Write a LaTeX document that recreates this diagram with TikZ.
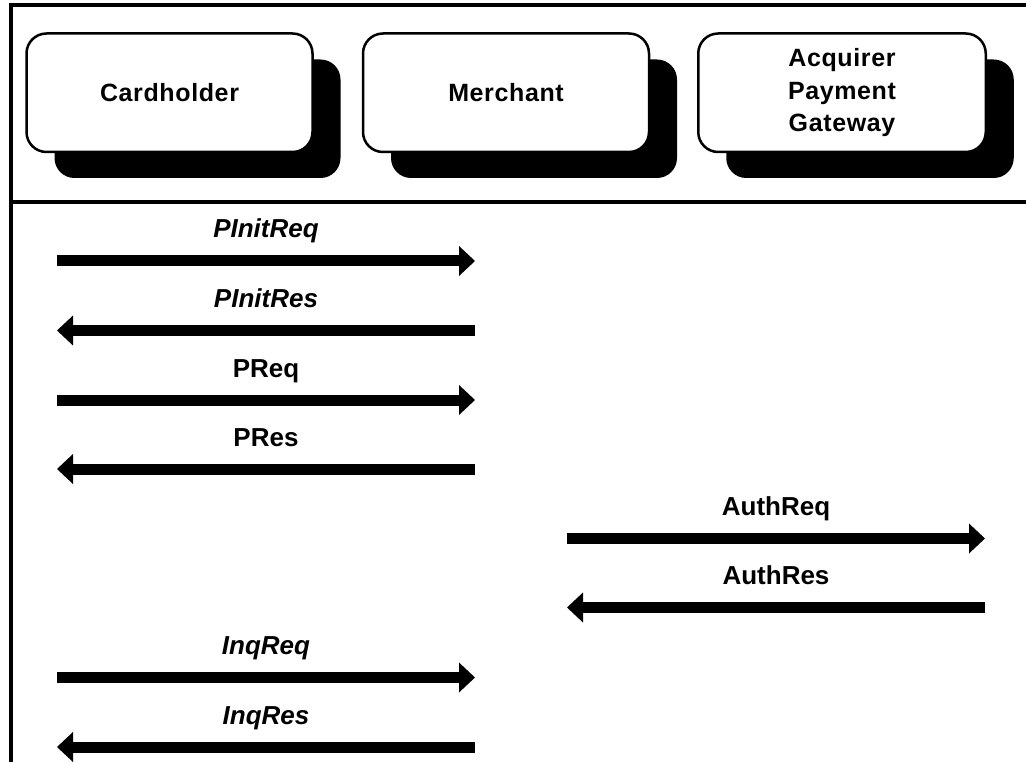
\documentclass[tikz,border=0pt]{standalone}
\usepackage{fontspec}
\setmainfont{Liberation Sans}
\newfontfamily\partyfont[LetterSpace=2.5]{Liberation Sans}
\usetikzlibrary{arrows.meta,shadows}

\begin{document}
\begin{tikzpicture}[x=1pt,y=-1pt,
  frame/.style={line width=4pt},
  party/.style={draw, line width=2.5pt, rounded corners=20pt, fill=white,
    minimum width=286pt, minimum height=118.5pt, inner sep=0pt, align=center,
    font=\partyfont\bfseries\fontsize{25}{32.5}\selectfont,
    general shadow={fill=black, shadow xshift=28pt, shadow yshift=-26pt}},
  msg/.style={line width=11pt, -{Triangle[length=16pt,width=30pt,line width=0pt]}},
  lbl/.style={midway, anchor=base, yshift=23pt, font=\bfseries\fontsize{26}{30}\selectfont},
  ilbl/.style={lbl, font=\bfseries\itshape\fontsize{26}{30}\selectfont},
]
\useasboundingbox (0,0) rectangle (1026,762);

% header frame and separator
\draw[frame] (1026,5.5) -| (11,762);
\draw[frame] (11,202) -- (1026,202);

% parties
\node[party] (ch) at (169.5,92.75) {Cardholder};
\node[party] (me) at (506,92.75) {Merchant};
\node[party, minimum width=287.5pt] (ag) at (842,92.75) {Acquirer\\Payment\\Gateway};

% message end points
\coordinate (chA) at (57,261);   \coordinate (meA) at (475,261);
\coordinate (chB) at (57,330.5); \coordinate (meB) at (475,330.5);
\coordinate (chC) at (57,400);   \coordinate (meC) at (475,400);
\coordinate (chD) at (57,469);   \coordinate (meD) at (475,469);
\coordinate (meE) at (567,538.5); \coordinate (agE) at (985,538.5);
\coordinate (meF) at (567,607.5); \coordinate (agF) at (985,607.5);
\coordinate (chG) at (57,677.5); \coordinate (meG) at (475,677.5);
\coordinate (chH) at (57,747);   \coordinate (meH) at (475,747);

% messages
\draw[msg] (chA) -- node[ilbl] {PInitReq} (meA);
\draw[msg] (meB) -- node[ilbl] {PInitRes} (chB);
\draw[msg] (chC) -- node[lbl] {PReq} (meC);
\draw[msg] (meD) -- node[lbl] {PRes} (chD);
\draw[msg] (meE) -- node[lbl] {AuthReq} (agE);
\draw[msg] (agF) -- node[lbl] {AuthRes} (meF);
\draw[msg] (chG) -- node[ilbl] {InqReq} (meG);
\draw[msg] (meH) -- node[ilbl] {InqRes} (chH);
\end{tikzpicture}
\end{document}
